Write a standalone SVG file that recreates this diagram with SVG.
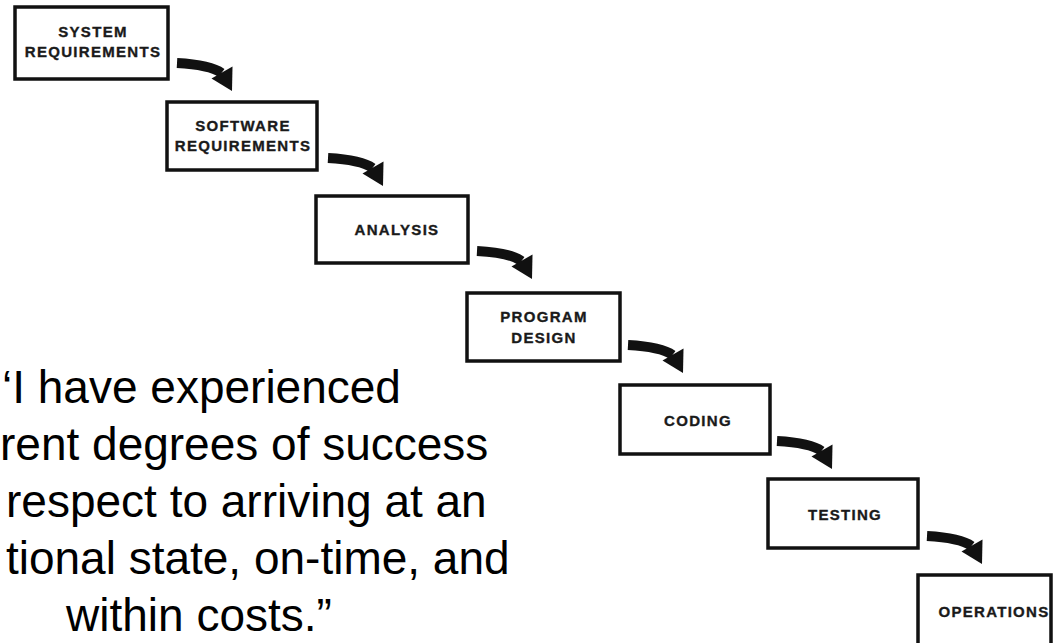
<svg xmlns="http://www.w3.org/2000/svg" width="1053" height="643" viewBox="0 0 1053 643">
<style>
.box{fill:#fff;stroke:#111;stroke-width:3.5}
.lbl{font-family:"Liberation Sans",Arial,sans-serif;font-weight:bold;font-size:15px;letter-spacing:1.3px;fill:#1a1a1a;stroke:#1a1a1a;stroke-width:0.35;text-anchor:middle}
.quote{font-family:"Liberation Sans",Arial,sans-serif;font-size:46px;fill:#000}
.shaft{fill:none;stroke:#111;stroke-width:10}
.head{fill:#111}
</style>
<defs>
<g id="arrow">
<path class="shaft" d="M0,0 C18,1 35,3 44.5,10"/>
<polygon class="head" points="55,28 55.5,3.5 34.5,15.5"/>
</g>
</defs>
<rect width="1053" height="643" fill="#fff"/>
<g id="connectors">
<use href="#arrow" transform="translate(177,63)"/>
<use href="#arrow" transform="translate(328,158)"/>
<use href="#arrow" transform="translate(477,251)"/>
<use href="#arrow" transform="translate(628,345)"/>
<use href="#arrow" transform="translate(777,441)"/>
<use href="#arrow" transform="translate(927,536)"/>
</g>
<g id="system-requirements">
<rect class="box" x="15" y="7" width="153" height="72"/>
<text class="lbl" x="93" y="37">SYSTEM</text>
<text class="lbl" x="93" y="57">REQUIREMENTS</text>
</g>
<g id="software-requirements">
<rect class="box" x="167" y="102" width="150" height="68"/>
<text class="lbl" x="243" y="130.5">SOFTWARE</text>
<text class="lbl" x="243" y="151">REQUIREMENTS</text>
</g>
<g id="analysis">
<rect class="box" x="316" y="196" width="152" height="67"/>
<text class="lbl" x="397" y="235">ANALYSIS</text>
</g>
<g id="program-design">
<rect class="box" x="467" y="293" width="153" height="68"/>
<text class="lbl" x="544" y="322">PROGRAM</text>
<text class="lbl" x="544" y="343">DESIGN</text>
</g>
<g id="coding">
<rect class="box" x="620" y="385" width="150" height="69"/>
<text class="lbl" x="698" y="426">CODING</text>
</g>
<g id="testing">
<rect class="box" x="768" y="479" width="150" height="69"/>
<text class="lbl" x="845" y="520">TESTING</text>
</g>
<g id="operations">
<rect class="box" x="918" y="575" width="133" height="72"/>
<text class="lbl" x="994" y="616.5">OPERATIONS</text>
</g>
<g id="quote">
<text class="quote" x="2" y="403">‘I have experienced</text>
<text class="quote" x="0" y="460">rent degrees of success</text>
<text class="quote" x="6" y="517">respect to arriving at an</text>
<text class="quote" x="5.9" y="574">tional state, on-time, and</text>
<text class="quote" x="66" y="631">within costs.”</text>
</g>
</svg>
